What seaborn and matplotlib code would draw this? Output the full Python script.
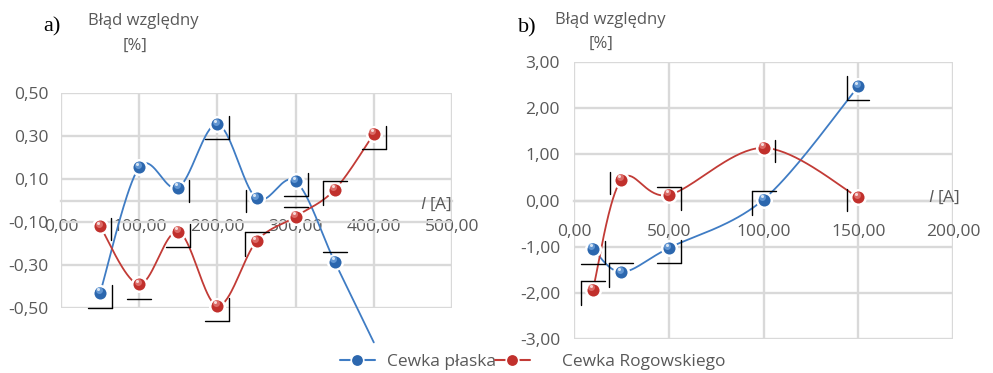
import numpy as np
import pandas as pd
import matplotlib
matplotlib.use("Agg")
import matplotlib.pyplot as plt
import seaborn as sns
from matplotlib.lines import Line2D
from matplotlib.transforms import IdentityTransform, offset_copy

# ---------------- data ----------------
a_current = [50, 100, 150, 200, 250, 300, 350, 400]
a_plaska = [-0.43, 0.155, 0.06, 0.355, 0.01, 0.09, -0.285, -0.66]
a_rogowski = [-0.12, -0.39, -0.145, -0.49, -0.19, -0.075, 0.05, 0.31]
a_plaska_marks = ["BR", None, "R", "BR", "L", "BR", "T", None]
a_rogowski_marks = ["R", "B", "BR", "BR", "TL", "T", "TL", "BR"]

b_current = [10, 25, 50, 100, 150]
b_plaska = [-1.05, -1.55, -1.03, 0.02, 2.47]
b_rogowski = [-1.93, 0.45, 0.12, 1.14, 0.07]
b_plaska_marks = ["BR", "TL", "BR", "TL", "BL"]
b_rogowski_marks = ["TL", "L", "TR", "R", "L"]

a_xticks = [0, 100, 200, 300, 400, 500]
a_yticks = [-0.5, -0.3, -0.1, 0.1, 0.3, 0.5]
b_xticks = [0, 50, 100, 150, 200]
b_yticks = [-3, -2, -1, 0, 1, 2, 3]

series_names = ["Cewka płaska", "Cewka Rogowskiego"]
y_title = "Błąd względny"
y_unit = "[%]"
x_title = "$I$ [A]"
panel_labels = ["a)", "b)"]

# ---------------- style ----------------
sns.set_theme(style="white")
plt.rcParams["font.family"] = ["Open Sans", "DejaVu Sans"]
plt.rcParams["mathtext.fontset"] = "custom"
plt.rcParams["mathtext.it"] = "Open Sans:italic"
plt.rcParams["mathtext.rm"] = "Open Sans"

TXT = "#595959"
GRID = "#d9d9d9"
BLUE_LINE = "#3f7cc4"
RED_LINE = "#c23b36"
BLUE_M = "#2c67ae"
RED_M = "#c1302c"
BLUE_HI = "#8fbdf0"
RED_HI = "#f29a96"
FS = 12.5
FS_T = 12

fig = plt.figure(figsize=(9.93, 3.73), dpi=100)
W, H = 993, 373


def px_axes(left, top, right, bottom):
    return fig.add_axes([left / W, 1 - bottom / H, (right - left) / W, (bottom - top) / H])


def smooth(x, y, n=40):
    P = np.column_stack([x, y]).astype(float)
    ext = np.vstack([P[0], P, P[-1]])
    out = []
    for i in range(len(P) - 1):
        p0, p1, p2, p3 = ext[i], ext[i + 1], ext[i + 2], ext[i + 3]
        c1 = p1 + (p2 - p0) / 6
        c2 = p2 - (p3 - p1) / 6
        t = np.linspace(0, 1, n)[:, None]
        seg = (1 - t) ** 3 * p1 + 3 * (1 - t) ** 2 * t * c1 + 3 * (1 - t) * t ** 2 * c2 + t ** 3 * p2
        out.append(seg if i == 0 else seg[1:])
    return np.vstack(out)


BRACKETS = {
    "BR": [((12, -8), (12, 15)), ((-12, 15), (12, 15))],
    "TL": [((-12, -9), (12, -9)), ((-12, -9), (-12, 15))],
    "BL": [((-11, -10), (-11, 14)), ((-11, 14), (11, 14))],
    "TR": [((-12, -8), (12, -8)), ((12, -8), (12, 15))],
    "R": [((11, -8), (11, 14))],
    "L": [((-11, -8), (-11, 14))],
    "B": [((-12, 15), (12, 15))],
    "T": [((-12, -10), (12, -10))],
}


def fmt(v):
    return f"{v:.2f}".replace(".", ",")


def draw_panel(ax, xs, ys_list, marks_list, xticks, yticks, xpad, ypad, clip_blue):
    ax.set_xlim(xticks[0], xticks[-1])
    ax.set_ylim(yticks[0], yticks[-1])
    colors = [(BLUE_LINE, BLUE_M, BLUE_HI), (RED_LINE, RED_M, RED_HI)]
    for k, (ys, (lc, mc, hc)) in enumerate(zip(ys_list, colors)):
        cur = smooth(xs, ys)
        df = pd.DataFrame({"x": cur[:, 0], "y": cur[:, 1]})
        sns.lineplot(data=df, x="x", y="y", sort=False, estimator=None, ax=ax,
                     color=lc, lw=1.3, zorder=3, clip_on=not (clip_blue and k == 0))
        pts = pd.DataFrame({"x": xs, "y": ys})
        pts = pts[(pts.y >= yticks[0]) & (pts.y <= yticks[-1])]
        sns.scatterplot(data=pts, x="x", y="y", ax=ax, s=110, color=mc,
                        edgecolor="white", linewidth=1.8, zorder=5, clip_on=False)
        ax.plot(pts.x, pts.y, "o", ms=6, color=mc, mew=0, alpha=1, zorder=6, clip_on=False,
                transform=offset_copy(ax.transData, fig, x=-1, y=1.5, units="dots"))
        ax.plot(pts.x, pts.y, "o", ms=5, color=hc, mew=0, alpha=0.55, zorder=6, clip_on=False,
                transform=offset_copy(ax.transData, fig, x=-1.5, y=2.5, units="dots"))
        ax.plot(pts.x, pts.y, "o", ms=2.2, color="white", mew=0, alpha=0.75, zorder=7, clip_on=False,
                transform=offset_copy(ax.transData, fig, x=-2, y=3.5, units="dots"))
    # grid and axis
    ax.set_xticks(xticks)
    ax.set_yticks(yticks)
    ax.set_xticklabels([fmt(v) for v in xticks])
    ax.set_yticklabels([fmt(v) for v in yticks])
    ax.grid(True, color=GRID, lw=1.7, zorder=0)
    ax.set_axisbelow(True)
    for s in ["left", "right", "top"]:
        ax.spines[s].set_visible(False)
    ax.spines["bottom"].set_position(("data", 0))
    ax.spines["bottom"].set_color(GRID)
    ax.spines["bottom"].set_linewidth(1.7)
    ax.tick_params(axis="x", length=0, pad=xpad, labelsize=FS, labelcolor=TXT)
    ax.tick_params(axis="y", length=0, pad=ypad, labelsize=FS, labelcolor=TXT)
    ax.set_xlabel("")
    ax.set_ylabel("")
    for lab in ax.get_xticklabels() + ax.get_yticklabels():
        lab.set_clip_on(False)
    # brackets (drawn in pixel offsets around each data point)
    for ys, marks in zip(ys_list, marks_list):
        for x, y, m in zip(xs, ys, marks):
            if m is None:
                continue
            X, Y = ax.transData.transform((x, y))
            for (x1, y1), (x2, y2) in BRACKETS[m]:
                fig.add_artist(Line2D([X + x1, X + x2], [Y - y1, Y - y2], color="black",
                                      lw=1.0, transform=IdentityTransform(), zorder=8))


ax_a = px_axes(61, 93, 452, 308)
ax_b = px_axes(574, 62, 953, 339)

draw_panel(ax_a, a_current, [a_plaska, a_rogowski], [a_plaska_marks, a_rogowski_marks],
           a_xticks, a_yticks, xpad=13, ypad=9, clip_blue=True)
draw_panel(ax_b, b_current, [b_plaska, b_rogowski], [b_plaska_marks, b_rogowski_marks],
           b_xticks, b_yticks, xpad=17, ypad=10, clip_blue=False)

# axis titles
ax_a.text(500, -0.02, x_title, ha="right", va="center", fontsize=FS, color=TXT)
ax_b.text(204, 0.06, x_title, ha="right", va="center", fontsize=FS, color=TXT)

fig.text(143 / W, 1 - 21 / H, y_title, ha="center", va="center", fontsize=FS_T, color=TXT)
fig.text(135 / W, 1 - 46 / H, y_unit, ha="center", va="center", fontsize=FS_T, color=TXT)
fig.text(610 / W, 1 - 20 / H, y_title, ha="center", va="center", fontsize=FS_T, color=TXT)
fig.text(601 / W, 1 - 44 / H, y_unit, ha="center", va="center", fontsize=FS_T, color=TXT)

fig.text(52 / W, 1 - 27 / H, panel_labels[0], ha="center", va="center", fontsize=16,
         family="Liberation Serif", color="black")
fig.text(527 / W, 1 - 28 / H, panel_labels[1], ha="center", va="center", fontsize=16,
         family="Liberation Serif", color="black")

# legend
h_blue = Line2D([], [], color=BLUE_LINE, lw=1.5, marker="o", ms=9, mfc=BLUE_M, mec="white", mew=1.2)
h_red = Line2D([], [], color=RED_LINE, lw=1.5, marker="o", ms=9, mfc=RED_M, mec="white", mew=1.2)
fig.legend([h_blue], [series_names[0]], loc="center left", bbox_to_anchor=(340 / W, 1 - 362 / H),
           frameon=False, fontsize=FS, labelcolor=TXT, borderpad=0, borderaxespad=0,
           handlelength=2.0, handletextpad=0.7)
fig.legend([h_red], [series_names[1]], loc="center left", bbox_to_anchor=(495 / W, 1 - 362 / H),
           frameon=False, fontsize=FS, labelcolor=TXT, borderpad=0, borderaxespad=0,
           handlelength=2.0, handletextpad=1.85)

fig.savefig("out.png", dpi=100)
